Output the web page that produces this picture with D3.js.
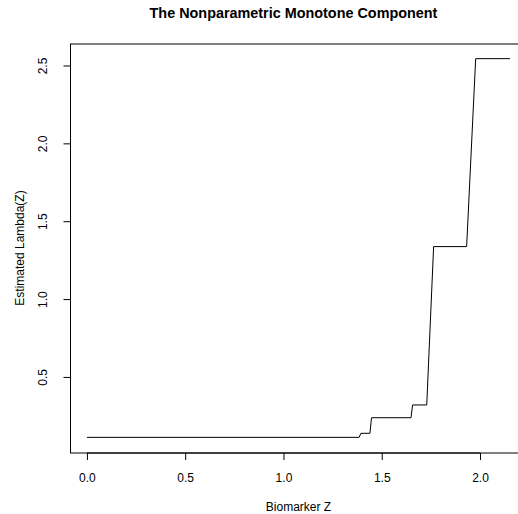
<!DOCTYPE html>
<html><head><meta charset="utf-8">
<script src="https://cdn.jsdelivr.net/npm/d3@7"></script>
<style>body{margin:0;background:#fff}svg{display:block}text{font-family:"Liberation Sans",Arial,sans-serif;fill:#000}</style>
</head><body>
<script>
const zValues = [0.0, 1.385, 1.394, 1.440, 1.448, 1.649, 1.657, 1.729, 1.764, 1.932, 1.978, 2.153];
const lambdaValues = [0.112, 0.112, 0.138, 0.138, 0.238, 0.238, 0.320, 0.320, 1.337, 1.337, 2.544, 2.544];
const xTicks = [0.0, 0.5, 1.0, 1.5, 2.0];
const yTicks = [0.5, 1.0, 1.5, 2.0, 2.5];
const titleText = "The Nonparametric Monotone Component";
const xLabel = "Biomarker Z";
const yLabel = "Estimated Lambda(Z)";

const W = 518, H = 514;
const L = 70, R = 527, T = 43.5, B = 452.5;
const svg = d3.select("body").append("svg").attr("width", W).attr("height", H);

const xMin = d3.min(zValues), xMax = d3.max(zValues);
const yMin = d3.min(lambdaValues), yMax = d3.max(lambdaValues);
const xPad = (xMax - xMin) * 0.04, yPad = (yMax - yMin) * 0.04;
const x = d3.scaleLinear().domain([xMin - xPad, xMax + xPad]).range([L, R]);
const y = d3.scaleLinear().domain([yMin - yPad, yMax + yPad]).range([B, T]);

// box
svg.append("rect").attr("x", L + 0.5).attr("y", T + 0.5).attr("width", R - L).attr("height", B - T)
  .attr("fill", "none").attr("stroke", "#000").attr("stroke-width", 1);

// data line
const line = d3.line().x((d, i) => x(zValues[i])).y((d, i) => y(lambdaValues[i]));
svg.append("path").datum(zValues).attr("d", line).attr("fill", "none").attr("stroke", "#000").attr("stroke-width", 1);

// x axis
const xa = svg.append("g").attr("transform", `translate(0,${B + 0.5})`)
  .call(d3.axisBottom(x).tickValues(xTicks).tickSize(7).tickPadding(0).tickFormat(d3.format(".1f")));
xa.select(".domain").attr("d", `M${x(xTicks[0])},0H${x(xTicks[xTicks.length-1])}`);
xa.selectAll("text").attr("dy", null).attr("y", 28.5).style("font-size", "12px").style("font-family", "Liberation Sans, Arial, sans-serif");

// y axis
const ya = svg.append("g").attr("transform", `translate(${L + 0.5},0)`)
  .call(d3.axisLeft(y).tickValues(yTicks).tickSize(7).tickFormat(d3.format(".1f")));
ya.select(".domain").attr("d", `M0,${y(yTicks[0])}V${y(yTicks[yTicks.length-1])}`);
ya.selectAll(".tick text").attr("x", null).attr("dy", null)
  .attr("transform", "translate(-23.5,0) rotate(-90)").attr("text-anchor", "middle")
  .style("font-size", "12px").style("font-family", "Liberation Sans, Arial, sans-serif");

// titles
svg.append("text").attr("x", 293.5).attr("y", 17.5).attr("text-anchor", "middle")
  .style("font-size", "14.4px").style("font-weight", "bold").text(titleText);
svg.append("text").attr("x", (L + R) / 2).attr("y", 511).attr("text-anchor", "middle")
  .style("font-size", "12px").text(xLabel);
svg.append("text").attr("transform", `translate(23.5,${(T + B) / 2}) rotate(-90)`).attr("text-anchor", "middle")
  .style("font-size", "12px").text(yLabel);
</script>
</body></html>
